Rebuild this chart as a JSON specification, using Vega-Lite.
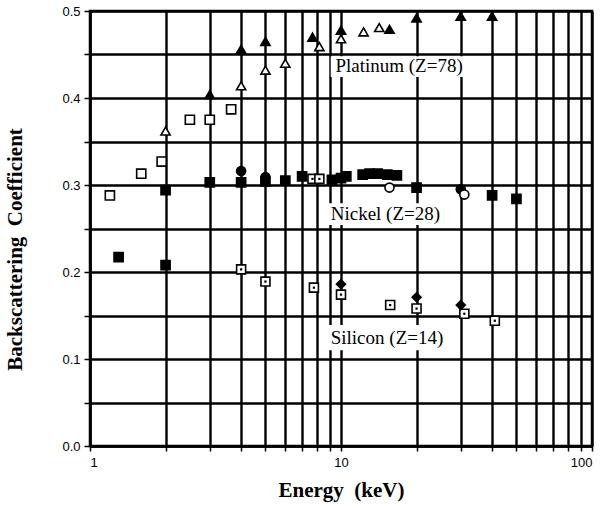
{
  "$schema": "https://vega.github.io/schema/vega-lite/v6.json",
  "width": 502,
  "height": 435,
  "autosize": {"type": "none"},
  "padding": {"left": 90, "top": 11, "right": 13, "bottom": 62},
  "background": "white",
  "config": {
    "view": {"stroke": "black", "strokeWidth": 2.5},
    "axis": {
      "grid": true,
      "gridColor": "black",
      "gridWidth": 2.4,
      "gridOpacity": 1,
      "domainColor": "black",
      "domainWidth": 2.5,
      "tickColor": "black",
      "tickWidth": 1.5,
      "labelFont": "Liberation Sans",
      "labelFontSize": 13,
      "labelColor": "black",
      "titleFont": "Liberation Serif",
      "titleFontWeight": "bold",
      "titleFontSize": 21,
      "titleColor": "black"
    }
  },
  "datasets": {
    "pts": [
      {"E": 3, "B": 0.404, "m": "tri_f"},
      {"E": 4, "B": 0.456, "m": "tri_f"},
      {"E": 5, "B": 0.465, "m": "tri_f"},
      {"E": 7.7, "B": 0.47, "m": "tri_f"},
      {"E": 10, "B": 0.478, "m": "tri_f"},
      {"E": 15.6, "B": 0.479, "m": "tri_f"},
      {"E": 20, "B": 0.492, "m": "tri_f"},
      {"E": 30, "B": 0.494, "m": "tri_f"},
      {"E": 40, "B": 0.494, "m": "tri_f"},
      {"E": 2, "B": 0.362, "m": "tri_o"},
      {"E": 4, "B": 0.414, "m": "tri_o"},
      {"E": 5, "B": 0.432, "m": "tri_o"},
      {"E": 6, "B": 0.44, "m": "tri_o"},
      {"E": 8.2, "B": 0.459, "m": "tri_o"},
      {"E": 10, "B": 0.468, "m": "tri_o"},
      {"E": 12.3, "B": 0.476, "m": "tri_o"},
      {"E": 14.2, "B": 0.481, "m": "tri_o"},
      {"E": 1.2, "B": 0.288, "m": "sq_o"},
      {"E": 1.6, "B": 0.313, "m": "sq_o"},
      {"E": 1.93, "B": 0.327, "m": "sq_o"},
      {"E": 2.5, "B": 0.375, "m": "sq_o"},
      {"E": 3, "B": 0.375, "m": "sq_o"},
      {"E": 3.65, "B": 0.387, "m": "sq_o"},
      {"E": 2, "B": 0.294, "m": "sq_f"},
      {"E": 3, "B": 0.303, "m": "sq_f"},
      {"E": 4, "B": 0.303, "m": "sq_f"},
      {"E": 5, "B": 0.304, "m": "sq_f"},
      {"E": 6, "B": 0.305, "m": "sq_f"},
      {"E": 7, "B": 0.31, "m": "sq_f"},
      {"E": 9.2, "B": 0.306, "m": "sq_f"},
      {"E": 10, "B": 0.308, "m": "sq_f"},
      {"E": 10.5, "B": 0.31, "m": "sq_f"},
      {"E": 12.2, "B": 0.312, "m": "sq_f"},
      {"E": 13, "B": 0.313, "m": "sq_f"},
      {"E": 14, "B": 0.313, "m": "sq_f"},
      {"E": 15.3, "B": 0.312, "m": "sq_f"},
      {"E": 16.7, "B": 0.311, "m": "sq_f"},
      {"E": 20, "B": 0.297, "m": "sq_f"},
      {"E": 40, "B": 0.288, "m": "sq_f"},
      {"E": 50, "B": 0.284, "m": "sq_f"},
      {"E": 4, "B": 0.316, "m": "circ_f"},
      {"E": 5, "B": 0.309, "m": "circ_f"},
      {"E": 30, "B": 0.295, "m": "circ_f"},
      {"E": 7.7, "B": 0.307, "m": "sq_dot"},
      {"E": 8.2, "B": 0.307, "m": "sq_dot"},
      {"E": 15.6, "B": 0.297, "m": "circ_o"},
      {"E": 31, "B": 0.289, "m": "circ_o"},
      {"E": 1.3, "B": 0.217, "m": "sq_f"},
      {"E": 2, "B": 0.208, "m": "sq_f"},
      {"E": 4, "B": 0.203, "m": "sq_dot"},
      {"E": 5, "B": 0.189, "m": "sq_dot"},
      {"E": 7.8, "B": 0.182, "m": "sq_dot"},
      {"E": 10, "B": 0.174, "m": "sq_dot"},
      {"E": 15.7, "B": 0.162, "m": "sq_dot"},
      {"E": 20, "B": 0.158, "m": "sq_dot"},
      {"E": 31, "B": 0.152, "m": "sq_dot"},
      {"E": 41, "B": 0.144, "m": "sq_dot"},
      {"E": 10, "B": 0.186, "m": "dia_f"},
      {"E": 20, "B": 0.171, "m": "dia_f"},
      {"E": 30, "B": 0.162, "m": "dia_f"}
    ],
    "labels": [
      {"E": 9.5, "B": 0.437, "E0": 9.1, "E1": 31.0, "B0": 0.424, "B1": 0.448, "text": "Platinum (Z=78)"},
      {"E": 9.1, "B": 0.267, "E0": 8.8, "E1": 28.6, "B0": 0.254, "B1": 0.279, "text": "Nickel (Z=28)"},
      {"E": 9.1, "B": 0.124, "E0": 8.8, "E1": 28.6, "B0": 0.11, "B1": 0.139, "text": "Silicon (Z=14)"}
    ]
  },
  "layer": [
    {
      "data": {"name": "labels"},
      "mark": {"type": "rect", "fill": "white", "stroke": null},
      "encoding": {
        "x": {
          "field": "E0", "type": "quantitative",
          "scale": {"type": "log", "domain": [1, 100], "nice": false},
          "axis": {
            "values": [1, 2, 3, 4, 5, 6, 7, 8, 9, 10, 20, 30, 40, 50, 60, 70, 80, 90, 100],
            "labelExpr": "indexof([1, 10, 100], datum.value) >= 0 ? format(datum.value, 'd') : ''",
            "tickSize": 5,
            "labelPadding": 5,
            "title": "Energy\u00a0\u00a0(keV)",
            "titlePadding": 10
          }
        },
        "x2": {"field": "E1"},
        "y": {
          "field": "B0", "type": "quantitative",
          "scale": {"domain": [0, 0.5], "nice": false},
          "axis": {
            "values": [0, 0.05, 0.1, 0.15, 0.2, 0.25, 0.3, 0.35, 0.4, 0.45, 0.5],
            "labelExpr": "round(datum.value * 20) % 2 == 0 ? format(datum.value, '.1f') : ''",
            "tickSize": 6,
            "labelPadding": 4,
            "title": "Backscattering\u00a0\u00a0Coefficient",
            "titlePadding": 36,
            "titleY": 238
          }
        },
        "y2": {"field": "B1"}
      }
    },
    {
      "data": {"name": "labels"},
      "mark": {"type": "text", "align": "left", "baseline": "middle", "font": "Liberation Serif", "fontSize": 19, "color": "black"},
      "encoding": {
        "x": {"field": "E", "type": "quantitative"},
        "y": {"field": "B", "type": "quantitative"},
        "text": {"field": "text"}
      }
    },
    {
      "data": {"name": "pts"},
      "mark": {"type": "point", "filled": true, "stroke": "black", "strokeWidth": 1.6, "opacity": 1},
      "encoding": {
        "x": {"field": "E", "type": "quantitative"},
        "y": {"field": "B", "type": "quantitative"},
        "shape": {
          "field": "m", "type": "nominal", "legend": null,
          "scale": {
            "domain": ["tri_f", "tri_o", "sq_o", "sq_f", "circ_f", "circ_o", "sq_dot", "dia_f"],
            "range": ["triangle-up", "triangle-up", "square", "square", "circle", "circle", "square", "diamond"]
          }
        },
        "fill": {
          "field": "m", "type": "nominal", "legend": null,
          "scale": {
            "domain": ["tri_f", "tri_o", "sq_o", "sq_f", "circ_f", "circ_o", "sq_dot", "dia_f"],
            "range": ["black", "white", "white", "black", "black", "white", "white", "black"]
          }
        },
        "size": {
          "field": "m", "type": "nominal", "legend": null,
          "scale": {
            "domain": ["tri_f", "tri_o", "sq_o", "sq_f", "circ_f", "circ_o", "sq_dot", "dia_f"],
            "range": [85, 80, 70, 80, 55, 35, 55, 65]
          }
        }
      }
    },
    {
      "data": {"name": "pts"},
      "transform": [{"filter": "datum.m == 'sq_dot'"}],
      "mark": {"type": "point", "shape": "square", "filled": true, "color": "black", "size": 5, "opacity": 1},
      "encoding": {
        "x": {"field": "E", "type": "quantitative"},
        "y": {"field": "B", "type": "quantitative"}
      }
    }
  ]
}
